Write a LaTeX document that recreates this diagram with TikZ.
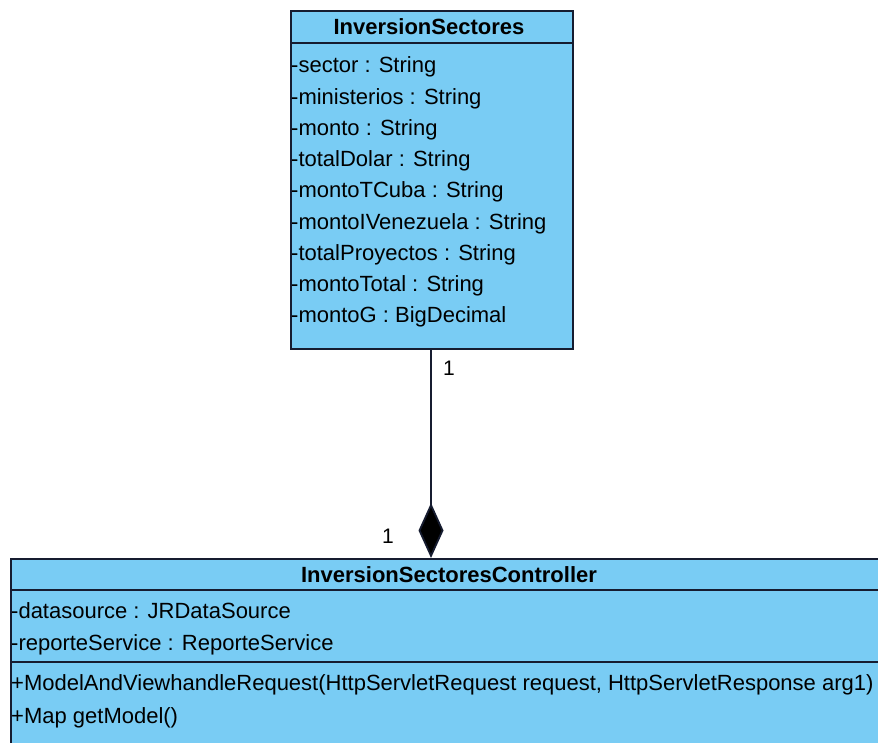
\documentclass[tikz,border=0pt]{standalone}
\usepackage{fontspec}
\setmainfont{Liberation Sans}
\usetikzlibrary{arrows.meta}
\definecolor{classfill}{RGB}{121,204,244}
\definecolor{classline}{RGB}{22,28,48}
\begin{document}
\begin{tikzpicture}[x=1pt,y=-1pt,
  classbox/.style={draw=classline,fill=classfill,line width=1.8pt},
  sepline/.style={draw=classline,line width=1.8pt},
  member/.style={anchor=base west,inner sep=0pt,font=\fontsize{22}{26}\selectfont},
  title/.style={anchor=base,inner sep=0pt,font=\fontsize{22}{26}\selectfont\bfseries},
  mult/.style={anchor=base,inner sep=0pt,font=\fontsize{21}{25}\selectfont},
  assoc/.style={draw=classline,line width=1.8pt}]
\useasboundingbox (0,0) rectangle (878,743);
\clip (0,0) rectangle (878,743);

% InversionSectores
\node[classbox,minimum width=282pt,minimum height=338pt,inner sep=0pt,anchor=north west] (is) at (290,10) {};
\draw[sepline] (290,43) -- (572,43);
\node[title] (istitle) at (429,35) {InversionSectores};
\foreach \i/\t in {0/{-sector : String},1/{-ministerios : String},2/{-monto : String},
  3/{-totalDolar : String},4/{-montoTCuba : String},5/{-montoIVenezuela : String},
  6/{-totalProyectos : String},7/{-montoTotal : String},8/{-montoG : BigDecimal}}
  \node[member] (isattr\i) at (291,73+31.25*\i) {\t};

% InversionSectoresController
\node[classbox,minimum width=900pt,minimum height=220pt,inner sep=0pt,anchor=north west] (isc) at (10,558) {};
\draw[sepline] (10,590) -- (900,590);
\draw[sepline] (10,662) -- (900,662);
\node[title] (isctitle) at (449,582) {InversionSectoresController};
\node[member] (iscattr0) at (11,618) {-datasource : JRDataSource};
\node[member] (iscattr1) at (11,650) {-reporteService : ReporteService};
\node[member] (iscop0) at (11,690) {+ModelAndViewhandleRequest(HttpServletRequest request, HttpServletResponse arg1)};
\node[member] (iscop1) at (11,723) {+Map getModel()};

% composition
\coordinate (top) at (431,348);
\coordinate (bot) at (431,558);
\draw[assoc,-{Diamond[length=55pt,width=25pt,fill=black]}] (top) -- (bot);
\node[mult] (m1) at (449,375) {1};
\node[mult] (m2) at (388,543) {1};
\end{tikzpicture}
\end{document}
